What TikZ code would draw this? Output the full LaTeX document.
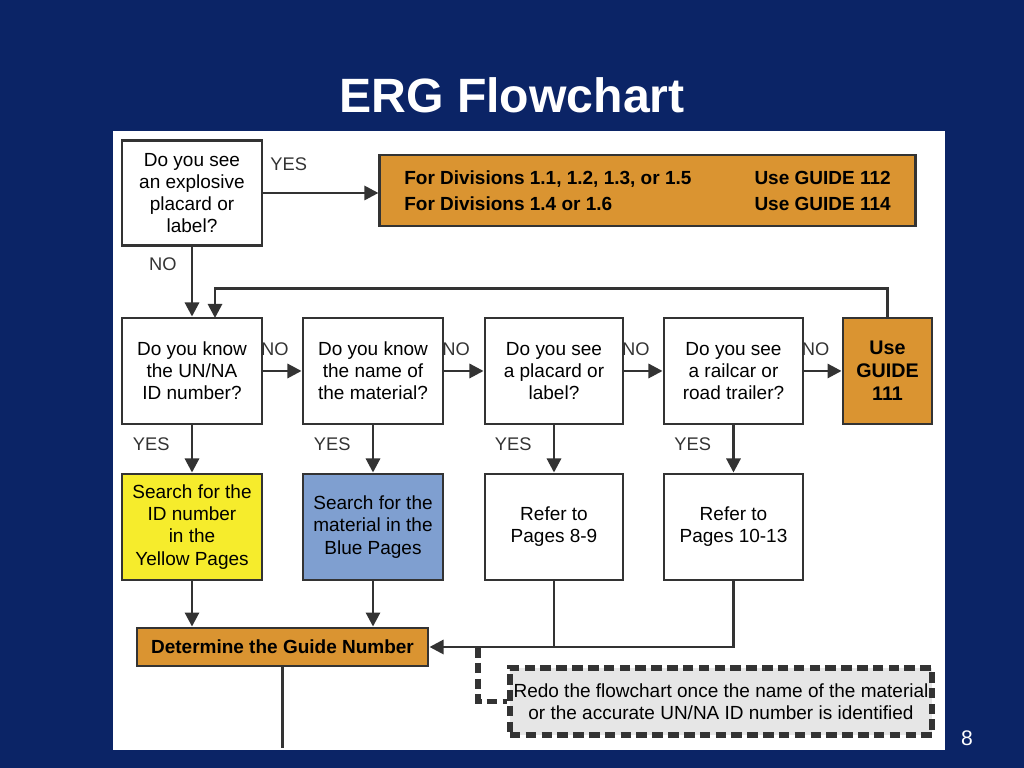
\documentclass[tikz,border=0pt]{standalone}
\usepackage{fontspec}
\setmainfont{Liberation Sans}
\definecolor{navy}{HTML}{0B2466}
\definecolor{ergorange}{HTML}{DA9431}
\definecolor{ergyellow}{HTML}{F6EC2C}
\definecolor{ergblue}{HTML}{7F9FD0}
\definecolor{erggrey}{HTML}{E6E6E6}
\usetikzlibrary{arrows.meta}
\tikzset{
  box/.style={draw=black!80,thick,fill=white,inner sep=0pt,align=center,
    font=\fontsize{5.4}{6.3}\selectfont},
  lbl/.style={inner sep=0pt,font=\fontsize{5.2}{6}\selectfont},
  flow/.style={thick,black!80,-{Triangle[length=4pt,width=4pt]}}
}
\begin{document}
\begin{tikzpicture}[x=0.01cm,y=-0.01cm]
\fill[navy] (0,0) rectangle (1024,768);
\useasboundingbox (0,0) rectangle (1024,768);
\node[white,font=\bfseries\fontsize{13.7}{16}\selectfont] (title) at (512,95) {ERG Flowchart};
\node[white,font=\fontsize{6}{7}\selectfont] (page) at (967,738) {8};
\fill[white] (113,131) rectangle (945,750);
% top row
\node[box,minimum width=1.4cm,minimum height=1.05cm] (q1) at (192,193) {Do you see\\an explosive\\placard or\\label?};
\node[box,fill=ergorange,minimum width=5.35cm,minimum height=0.71cm,font=\bfseries\fontsize{5.4}{7.4}\selectfont,align=left] (expl) at (647.5,190.5)
  {\makebox[3.5cm][l]{For Divisions 1.1, 1.2, 1.3, or 1.5}Use GUIDE 112\\\makebox[3.5cm][l]{For Divisions 1.4 or 1.6}Use GUIDE 114};
% question row
\node[box,minimum width=1.4cm,minimum height=1.06cm] (q2) at (192,371) {Do you know\\the UN/NA\\ID number?};
\node[box,minimum width=1.4cm,minimum height=1.06cm] (q3) at (373,371) {Do you know\\the name of\\the material?};
\node[box,minimum width=1.38cm,minimum height=1.06cm] (q4) at (554,371) {Do you see\\a placard or\\label?};
\node[box,minimum width=1.39cm,minimum height=1.06cm] (q5) at (733.5,371) {Do you see\\a railcar or\\road trailer?};
\node[box,fill=ergorange,minimum width=0.89cm,minimum height=1.06cm,font=\bfseries\fontsize{5.6}{6.5}\selectfont] (g111) at (887.5,371) {Use\\GUIDE\\111};
% answer row
\node[box,fill=ergyellow,minimum width=1.4cm,minimum height=1.06cm] (a2) at (192,527) {Search for the\\ID number\\in the\\Yellow Pages};
\node[box,fill=ergblue,minimum width=1.4cm,minimum height=1.06cm] (a3) at (373,527) {Search for the\\material in the\\Blue Pages};
\node[box,minimum width=1.38cm,minimum height=1.06cm] (a4) at (554,527) {Refer to\\Pages 8-9};
\node[box,minimum width=1.39cm,minimum height=1.06cm] (a5) at (733.5,527) {Refer to\\Pages 10-13};
\node[box,fill=ergorange,minimum width=2.91cm,minimum height=0.38cm,font=\bfseries\fontsize{5.4}{6.3}\selectfont] (guide) at (282.5,647) {Determine the Guide Number};
\node[box,fill=erggrey,draw=black!80,line width=1.6pt,dash pattern=on 3pt off 1.5pt,minimum width=4.22cm,minimum height=0.67cm] (redo) at (721,701.5) {Redo the flowchart once the name of the material\\or the accurate UN/NA ID number is identified};
% connectors
\draw[flow] (q1.east) -- node[lbl,above=6pt,pos=0.22] {YES} (expl.west|-q1.east);
\draw[flow] (q1) -- node[lbl,left=4pt,pos=0.25] {NO} (q2);
\draw[flow] (g111.north) -- ++(0,-28) -| (215,318);
\draw[flow] (q2) -- node[lbl,above=4pt,pos=0.3] {NO} (q3);
\draw[flow] (q3) -- node[lbl,above=4pt,pos=0.3] {NO} (q4);
\draw[flow] (q4) -- node[lbl,above=4pt,pos=0.3] {NO} (q5);
\draw[flow] (q5) -- node[lbl,above=4pt,pos=0.3] {NO} (g111);
\foreach \q/\a in {q2/a2,q3/a3,q4/a4,q5/a5}
  \draw[flow] (\q) -- node[lbl,left=6pt,pos=0.4] {YES} (\a);
\draw[flow] (a2.south) -- (a2.south|-guide.north);
\draw[flow] (a3.south) -- (a3.south|-guide.north);
\draw[thick,black!80] (a4.south) -- (a4.south|-guide.east);
\draw[flow] (a5.south) |- (guide.east);
\coordinate (dash) at (478,647);
\draw[black!80,line width=1.6pt,dash pattern=on 3pt off 1.5pt] (dash) |- (redo.west);
\draw[thick,black!80] (guide.south) -- (282.5,748);
\end{tikzpicture}
\end{document}
